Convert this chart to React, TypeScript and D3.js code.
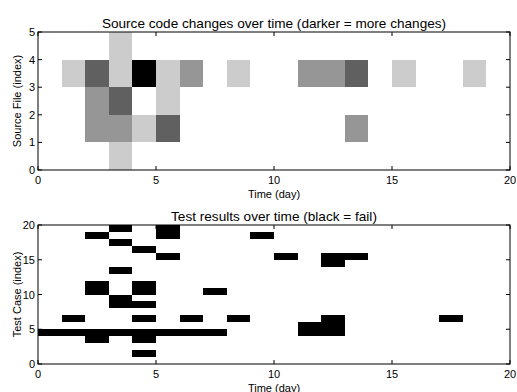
import React from "react";
import * as d3 from "d3";

// ---- Data ----
const days = [0, 5, 10, 15, 20];
const topYTicks = [0, 1, 2, 3, 4, 5];
const bottomYTicks = [0, 5, 10, 15, 20];

// [day, fileIndex, changeLevel]
const sourceChanges: [number, number, number][] = [
  [3, 4, 1],
  [1, 3, 1], [2, 3, 3], [3, 3, 1], [4, 3, 4], [5, 3, 1], [6, 3, 2], [8, 3, 1],
  [11, 3, 2], [12, 3, 2], [13, 3, 3], [15, 3, 1], [18, 3, 1],
  [2, 2, 2], [3, 2, 3], [5, 2, 1],
  [2, 1, 2], [3, 1, 2], [4, 1, 1], [5, 1, 3], [13, 1, 2],
  [3, 0, 1],
];
const levelColors = ["#cccccc", "#969696", "#606060", "#000000"];

// [day, testCase] failures
const testFailures: [number, number][] = [
  [3, 19], [5, 19],
  [2, 18], [5, 18], [9, 18],
  [3, 17],
  [4, 16],
  [5, 15], [10, 15], [12, 15], [13, 15],
  [12, 14],
  [3, 13],
  [2, 11], [4, 11],
  [2, 10], [4, 10], [7, 10],
  [3, 9],
  [3, 8], [4, 8],
  [1, 6], [4, 6], [6, 6], [8, 6], [12, 6], [17, 6],
  [11, 5], [12, 5],
  [0, 4], [1, 4], [2, 4], [3, 4], [4, 4], [5, 4], [6, 4], [7, 4], [11, 4], [12, 4],
  [2, 3], [4, 3],
  [4, 1],
];

const FONT = "'Liberation Sans', Arial, sans-serif";
const L = 38, R = 510;

type PanelProps = {
  top: number;
  bottom: number;
  yMax: number;
  yTicks: number[];
  title: string;
  ylabel: string;
  children: (x: d3.ScaleLinear<number, number>, y: d3.ScaleLinear<number, number>) => React.ReactNode;
};

function Panel({ top, bottom, yMax, yTicks, title, ylabel, children }: PanelProps) {
  const x = d3.scaleLinear().domain([0, 20]).range([L, R]);
  const y = d3.scaleLinear().domain([0, yMax]).range([bottom, top]);
  const tl = 4;
  return (
    <g>
      {children(x, y)}
      <rect x={L} y={top} width={R - L} height={bottom - top} fill="none" stroke="#000" strokeWidth={1} />
      {days.map((d) => (
        <g key={"xt" + d}>
          <line x1={x(d)} x2={x(d)} y1={bottom} y2={bottom - tl} stroke="#000" />
          <line x1={x(d)} x2={x(d)} y1={top} y2={top + tl} stroke="#000" />
          <text x={x(d)} y={bottom + 13.5} fontSize={11} textAnchor="middle" fontFamily={FONT}>{d}</text>
        </g>
      ))}
      {yTicks.map((t) => (
        <g key={"yt" + t}>
          <line x1={L} x2={L + tl} y1={y(t)} y2={y(t)} stroke="#000" />
          <line x1={R} x2={R - tl} y1={y(t)} y2={y(t)} stroke="#000" />
          <text x={L - 3} y={y(t) + 4} fontSize={11} textAnchor="end" fontFamily={FONT}>{t}</text>
        </g>
      ))}
      <text x={(L + R) / 2} y={bottom + 27.5} fontSize={11} textAnchor="middle" fontFamily={FONT}>Time (day)</text>
      <text
        transform={`translate(21,${(top + bottom) / 2}) rotate(-90)`}
        fontSize={11}
        textAnchor="middle"
        fontFamily={FONT}
      >{ylabel}</text>
      <text x={(L + R) / 2} y={top - 4.5} fontSize={13.6} textAnchor="middle" fontFamily={FONT}>{title}</text>
    </g>
  );
}

export default function App() {
  return (
    <svg width={517} height={392} style={{ position: "absolute", left: 0, top: 0, background: "#fff" }}>
      <rect width={517} height={392} fill="#fff" />
      <Panel
        top={32}
        bottom={170}
        yMax={5}
        yTicks={topYTicks}
        title="Source code changes over time (darker = more changes)"
        ylabel="Source File (index)"
      >
        {(x, y) =>
          sourceChanges.map(([d, f, lv], i) => (
            <rect
              key={i}
              x={x(d)}
              y={y(f + 1)}
              width={x(d + 1) - x(d)}
              height={y(f) - y(f + 1)}
              fill={levelColors[lv - 1]}
              shapeRendering="crispEdges"
            />
          ))
        }
      </Panel>
      <Panel
        top={225}
        bottom={364}
        yMax={20}
        yTicks={bottomYTicks}
        title="Test results over time (black = fail)"
        ylabel="Test Case (index)"
      >
        {(x, y) =>
          testFailures.map(([d, t], i) => (
            <rect
              key={i}
              x={x(d)}
              y={y(t + 1)}
              width={x(d + 1) - x(d)}
              height={y(t) - y(t + 1)}
              fill="#000"
              shapeRendering="crispEdges"
            />
          ))
        }
      </Panel>
    </svg>
  );
}
